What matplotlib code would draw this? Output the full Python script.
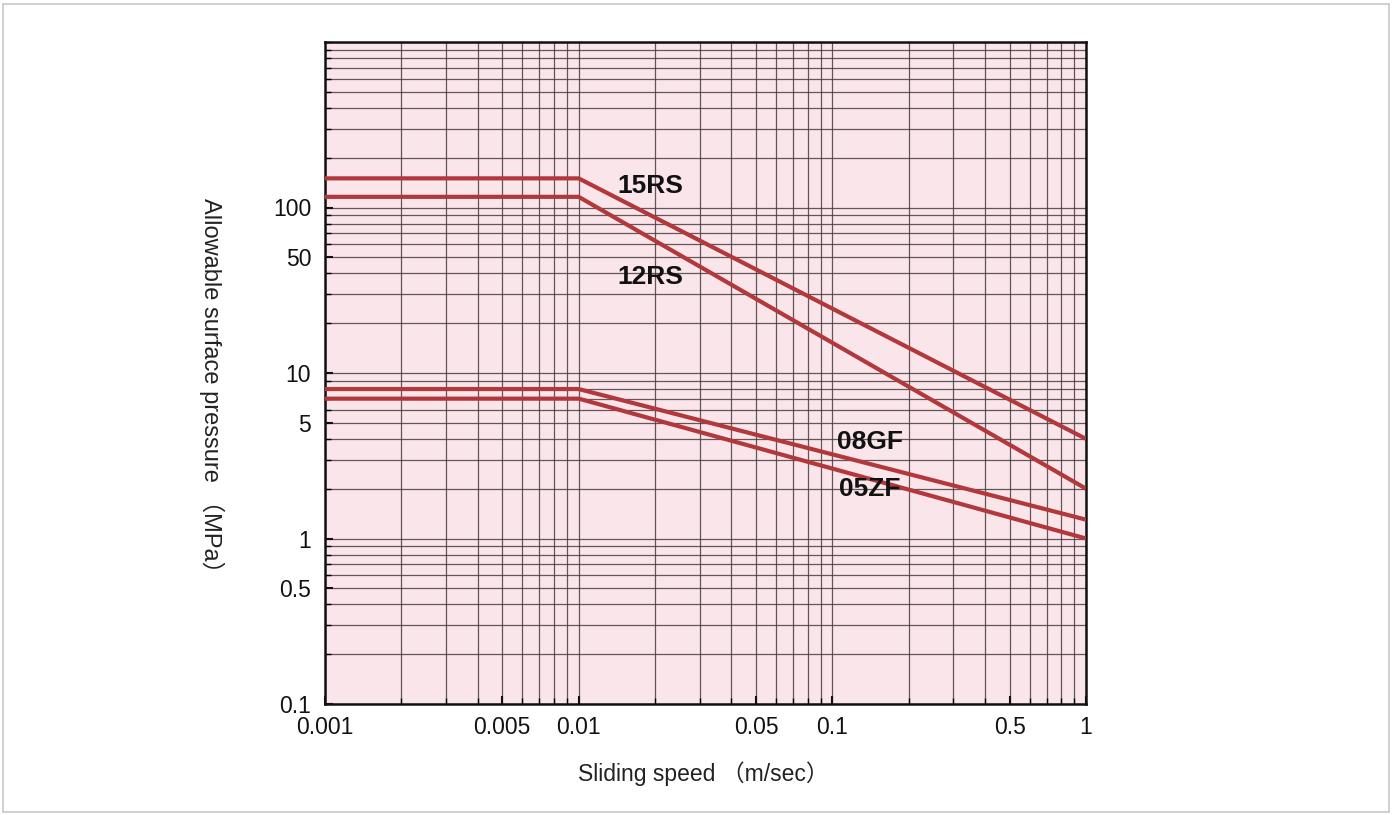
import matplotlib
matplotlib.use("Agg")
import matplotlib.pyplot as plt
from matplotlib.ticker import FixedLocator, FixedFormatter, LogLocator, NullFormatter
from matplotlib.patches import Rectangle

plt.rcParams['font.family'] = ['Liberation Sans', 'Noto Sans CJK JP', 'DejaVu Sans']

# Data
speed = [0.001, 0.01, 1.0]
p_15RS = [150, 150, 4.0]
p_12RS = [116, 116, 2.0]
p_08GF = [8.0, 8.0, 1.3]
p_05ZF = [7.0, 7.0, 1.0]
series_names = ["15RS", "12RS", "08GF", "05ZF"]

x_ticks = [0.001, 0.005, 0.01, 0.05, 0.1, 0.5, 1]
x_tick_labels = ["0.001", "0.005", "0.01", "0.05", "0.1", "0.5", "1"]
y_ticks = [0.1, 0.5, 1, 5, 10, 50, 100]
y_tick_labels = ["0.1", "0.5", "1", "5", "10", "50", "100"]

fig = plt.figure(figsize=(13.93, 8.15), dpi=100)
fig.patch.set_facecolor("white")
ax = fig.add_axes([325/1393, 1-704/815, (1086-325)/1393, (704-42)/815])
ax.set_facecolor("#f9e5ea")

ax.set_xscale("log")
ax.set_yscale("log")
ax.set_xlim(0.001, 1)
ax.set_ylim(0.1, 1000)

line_color = "#b2383b"
for vals in (p_15RS, p_12RS, p_08GF, p_05ZF):
    ax.plot(speed, vals, color=line_color, lw=3.0, solid_capstyle="butt", zorder=3)

ax.xaxis.set_major_locator(FixedLocator(x_ticks))
ax.xaxis.set_major_formatter(FixedFormatter(x_tick_labels))
ax.yaxis.set_major_locator(FixedLocator(y_ticks))
ax.yaxis.set_major_formatter(FixedFormatter(y_tick_labels))
ax.xaxis.set_minor_locator(LogLocator(base=10, subs=range(1, 10), numticks=20))
ax.yaxis.set_minor_locator(LogLocator(base=10, subs=range(1, 10), numticks=20))
ax.xaxis.set_minor_formatter(NullFormatter())
ax.yaxis.set_minor_formatter(NullFormatter())

ax.grid(True, which="both", color="#4a3c40", lw=0.9, alpha=0.85, zorder=1)
ax.set_axisbelow(True)
ax.tick_params(which="major", direction="in", length=6, width=1.5, labelsize=16.5,
               colors="#111111")
ax.tick_params(axis="x", which="major", pad=9)
ax.tick_params(axis="y", which="major", pad=10)
ax.tick_params(which="minor", direction="in", length=4, width=1.0)
for s in ax.spines.values():
    s.set_linewidth(1.8)
    s.set_color("#111111")

fig.text(703/1393, 1-774/815, "Sliding speed （m/sec）", fontsize=16.5,
         ha="center", va="center", color="#222222")
fig.text(212/1393, 1-391/815, "Allowable surface pressure （MPa）", rotation=-90,
         fontsize=17, ha="center", va="center", color="#222222")

label_pos = {"15RS": (0.0191, 135), "12RS": (0.0191, 38),
             "08GF": (0.1406, 3.85), "05ZF": (0.1406, 1.98)}
for name in series_names:
    x, y = label_pos[name]
    ax.text(x, y, name, fontsize=19, fontweight="bold", ha="center", va="center",
            color="#111111", zorder=4)

fig.add_artist(Rectangle((3/1393, 3/815), 1386/1393, 808/815, transform=fig.transFigure,
                         fill=False, edgecolor="#c8c8c8", lw=1.2))

fig.savefig("out.png", dpi=100)
